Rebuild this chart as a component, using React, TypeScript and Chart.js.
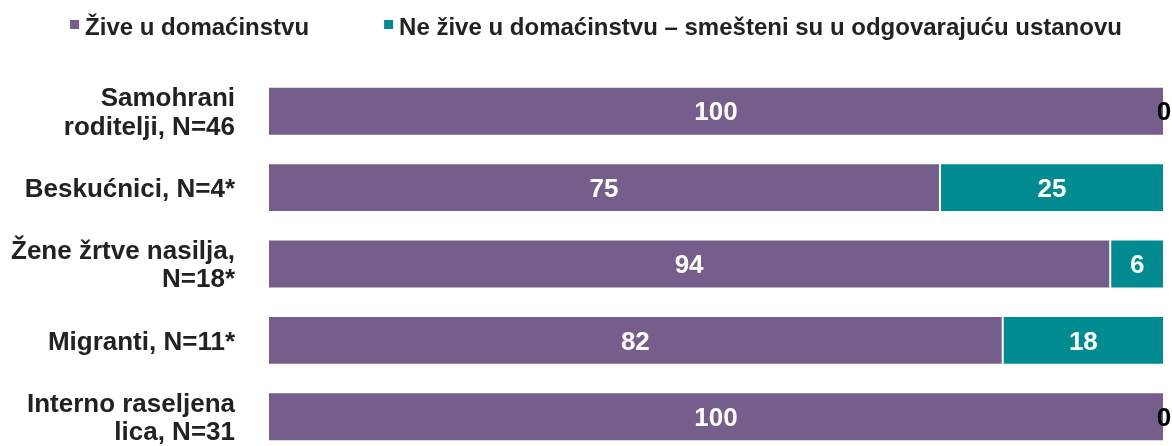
import React, { useEffect, useRef } from "react";
import { Chart, registerables } from "chart.js";

Chart.register(...registerables);

const categories: (string | string[])[] = [
  ["Samohrani", "roditelji, N=46"],
  "Beskućnici, N=4*",
  ["Žene žrtve nasilja,", "N=18*"],
  "Migranti, N=11*",
  ["Interno raseljena", "lica, N=31"],
];
const seriesNames = [
  "Žive u domaćinstvu",
  "Ne žive u domaćinstvu – smešteni su u odgovarajuću ustanovu",
];
const liveInHousehold = [100, 75, 94, 82, 100];
const inInstitution = [0, 25, 6, 18, 0];
const colors = ["#765E8C", "#008B91"];

const FONT = "'Liberation Sans', Arial, sans-serif";
const TEXT = "#222222";

const dataLabelPlugin = {
  id: "dataLabels",
  afterDatasetsDraw(chart: any) {
    const ctx = chart.ctx;
    ctx.save();
    ctx.font = `bold 26px ${FONT}`;
    ctx.textAlign = "center";
    ctx.textBaseline = "middle";
    chart.data.datasets.forEach((ds: any, di: number) => {
      const meta = chart.getDatasetMeta(di);
      meta.data.forEach((el: any, i: number) => {
        const v = ds.data[i];
        const cx = (el.x + el.base) / 2;
        ctx.fillStyle = v === 0 ? "#000000" : "#ffffff";
        ctx.fillText(String(v), cx, el.y + 2);
      });
    });
    ctx.restore();
  },
};

// nudges the category labels down slightly, as in the reference
const tickNudge = {
  id: "tickNudge",
  beforeDraw(chart: any) {
    const s = chart.scales && chart.scales.y;
    if (!s || s.__nudged || typeof s._computeLabelItems !== "function") return;
    const orig = s._computeLabelItems.bind(s);
    s._computeLabelItems = (area: any) =>
      orig(area).map((item: any) => {
        const tr = item.options && item.options.translation;
        if (!tr) return item;
        return {
          ...item,
          options: { ...item.options, translation: [tr[0], tr[1] + 2] },
        };
      });
    s._labelItems = null;
    s.__nudged = true;
  },
};

const customLegend = {
  id: "customLegend",
  afterDraw(chart: any) {
    const ctx = chart.ctx;
    const box = 9;
    const boxGap = 6;
    const itemGap = 75;
    const baseline = 35;
    ctx.save();
    ctx.font = `bold 24px ${FONT}`;
    const items = chart.data.datasets.map((ds: any) => ({
      text: ds.label as string,
      color: ds.backgroundColor as string,
      w: ctx.measureText(ds.label).width,
    }));
    const total =
      items.reduce((s: number, it: any) => s + box + boxGap + it.w, 0) +
      itemGap * (items.length - 1);
    let x = chart.width / 2 + 10 - total / 2;
    ctx.textBaseline = "alphabetic";
    ctx.textAlign = "left";
    items.forEach((it: any) => {
      ctx.fillStyle = it.color;
      ctx.fillRect(x, 20, box, box);
      x += box + boxGap;
      ctx.fillStyle = TEXT;
      ctx.fillText(it.text, x, baseline);
      x += it.w + itemGap;
    });
    ctx.restore();
  },
};

export default function App() {
  const ref = useRef<HTMLCanvasElement | null>(null);
  useEffect(() => {
    document.body.style.margin = "0";
    const chart = new Chart(ref.current as HTMLCanvasElement, {
      type: "bar",
      data: {
        labels: categories as any,
        datasets: [
          {
            label: seriesNames[0],
            data: liveInHousehold,
            backgroundColor: colors[0],
            borderColor: "#ffffff",
            borderWidth: 1,
            borderSkipped: false,
          },
          {
            label: seriesNames[1],
            data: inInstitution,
            backgroundColor: colors[1],
            borderColor: "#ffffff",
            borderWidth: 1,
            borderSkipped: false,
          },
        ],
      },
      options: {
        indexAxis: "y",
        responsive: false,
        animation: false,
        devicePixelRatio: 1,
        datasets: { bar: { categoryPercentage: 1, barPercentage: 0.64 } },
        layout: { padding: { left: 0, right: 8, top: 73, bottom: 2 } },
        scales: {
          x: {
            stacked: true,
            min: 0,
            max: 100,
            display: false,
          },
          y: {
            stacked: true,
            grid: { display: false },
            border: { display: false },
            afterFit(scale: any) {
              scale.width = 268;
              scale.paddingTop = 0;
              scale.paddingBottom = 0;
            },
            ticks: {
              padding: 25,
              color: TEXT,
              font: { family: FONT, size: 26, weight: "bold", lineHeight: 1.1 },
            },
          },
        },
        plugins: {
          legend: { display: false },
          tooltip: { enabled: false },
        },
      } as any,
      plugins: [dataLabelPlugin, customLegend, tickNudge],
    });
    return () => chart.destroy();
  }, []);
  return (
    <div style={{ width: 1172, height: 446, overflow: "hidden" }}>
      <canvas ref={ref} width={1172} height={457} />
    </div>
  );
}
